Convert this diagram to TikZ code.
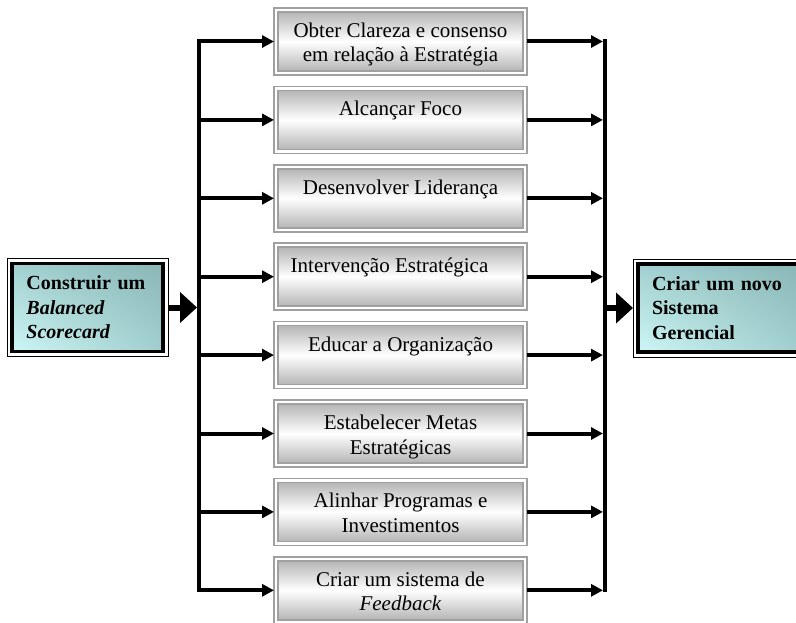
\documentclass[tikz,border=0pt]{standalone}
\usepackage{fontspec}
\setmainfont{Liberation Serif}
\usetikzlibrary{arrows.meta,positioning,calc,shadings}
\definecolor{Tl}{HTML}{D2FAFA}
\definecolor{Tm}{HTML}{A0CECE}
\definecolor{Td}{HTML}{88B4B4}
\definecolor{Gb}{HTML}{A0A0A0}
\definecolor{Gs}{HTML}{ABABAB}
\tikzset{
  etapa/.style={rectangle, draw=Gb, line width=1.5pt, inner sep=0pt, outer sep=0pt,
    minimum width=253pt, minimum height=67pt, font=\fontsize{21}{24.5}\selectfont,
    path picture={
      \shade[top color=Gs, bottom color=Gs, middle color=white]
        ([shift={(4pt,4pt)}]path picture bounding box.south west) rectangle
        ([shift={(-4pt,-4pt)}]path picture bounding box.north east);
      \draw[Gb, line width=1.5pt]
        ([shift={(4pt,4pt)}]path picture bounding box.south west) rectangle
        ([shift={(-4pt,-4pt)}]path picture bounding box.north east);}},
  sistema/.style={rectangle, draw=black, fill=white, line width=0.8pt, inner sep=0pt, outer sep=0pt,
    minimum height=98pt, align=left, font=\bfseries\fontsize{20}{24.5}\selectfont,
    path picture={
      \shade[lower left=Tl, upper left=Tm, lower right=Tm, upper right=Td]
        ([shift={(5pt,5pt)}]path picture bounding box.south west) rectangle
        ([shift={(-5pt,-5pt)}]path picture bounding box.north east);
      \draw[line width=3.5pt]
        ([shift={(5pt,5pt)}]path picture bounding box.south west) rectangle
        ([shift={(-5pt,-5pt)}]path picture bounding box.north east);}},
  tronco/.style={line width=4pt, line cap=rect},
  ramo/.style={-{Triangle[length=12pt,width=12pt]}, line width=4pt},
  seta/.style={-{Triangle[length=17pt,width=30pt]}, line width=6pt},
}
\newcommand{\etp}[1]{\parbox[c][59pt][t]{245pt}{\centering\rule{0pt}{25.5pt}#1}}

\begin{document}
\begin{tikzpicture}[x=1pt, y=-1pt]
  \useasboundingbox (0,0) rectangle (796,623);
  \node[etapa] (b1) at (400.5,41.5) {\etp{Obter Clareza e consenso\\ em relação à Estratégia}};
  \node[etapa, below=11.4pt of b1] (b2) {\etp{Alcançar Foco}};
  \node[etapa, below=11.4pt of b2] (b3) {\etp{Desenvolver Liderança}};
  \node[etapa, below=11.4pt of b3] (b4) {\etp{Intervenção Estratégica\hspace*{22pt}}};
  \node[etapa, below=11.4pt of b4] (b5) {\etp{Educar a Organização}};
  \node[etapa, below=11.4pt of b5] (b6) {\etp{Estabelecer Metas\\ Estratégicas}};
  \node[etapa, below=11.4pt of b6] (b7) {\etp{Alinhar Programas e\\ Investimentos}};
  \node[etapa, below=11.4pt of b7] (b8) {\etp{Criar um sistema de\\ \textit{Feedback}}};
  \node[sistema, minimum width=161pt, text width=122pt] (bsc) at (87.5,307.5)
    {Construir um\\ \textit{Balanced}\\ \textit{Scorecard}};
  \node[sistema, minimum width=172pt, text width=134pt] (fim) at (719,308)
    {Criar um novo\\ Sistema\\ Gerencial};
  \coordinate (esq) at (199,0);
  \coordinate (dir) at (605,0);
  \draw[tronco] (b1.west -| esq) -- (b8.west -| esq);
  \draw[tronco] (b1.east -| dir) -- (b8.east -| dir);
  \foreach \i in {1,...,8}{
    \draw[ramo] (b\i.west -| esq) -- (b\i.west);
    \draw[ramo, shorten >=2pt] (b\i.east) -- (b\i.east -| dir);}
  \draw[seta, shorten >=2pt] (bsc.east) -- (bsc.east -| esq);
  \draw[seta] (fim.west -| dir) -- (fim.west);
\end{tikzpicture}
\end{document}
